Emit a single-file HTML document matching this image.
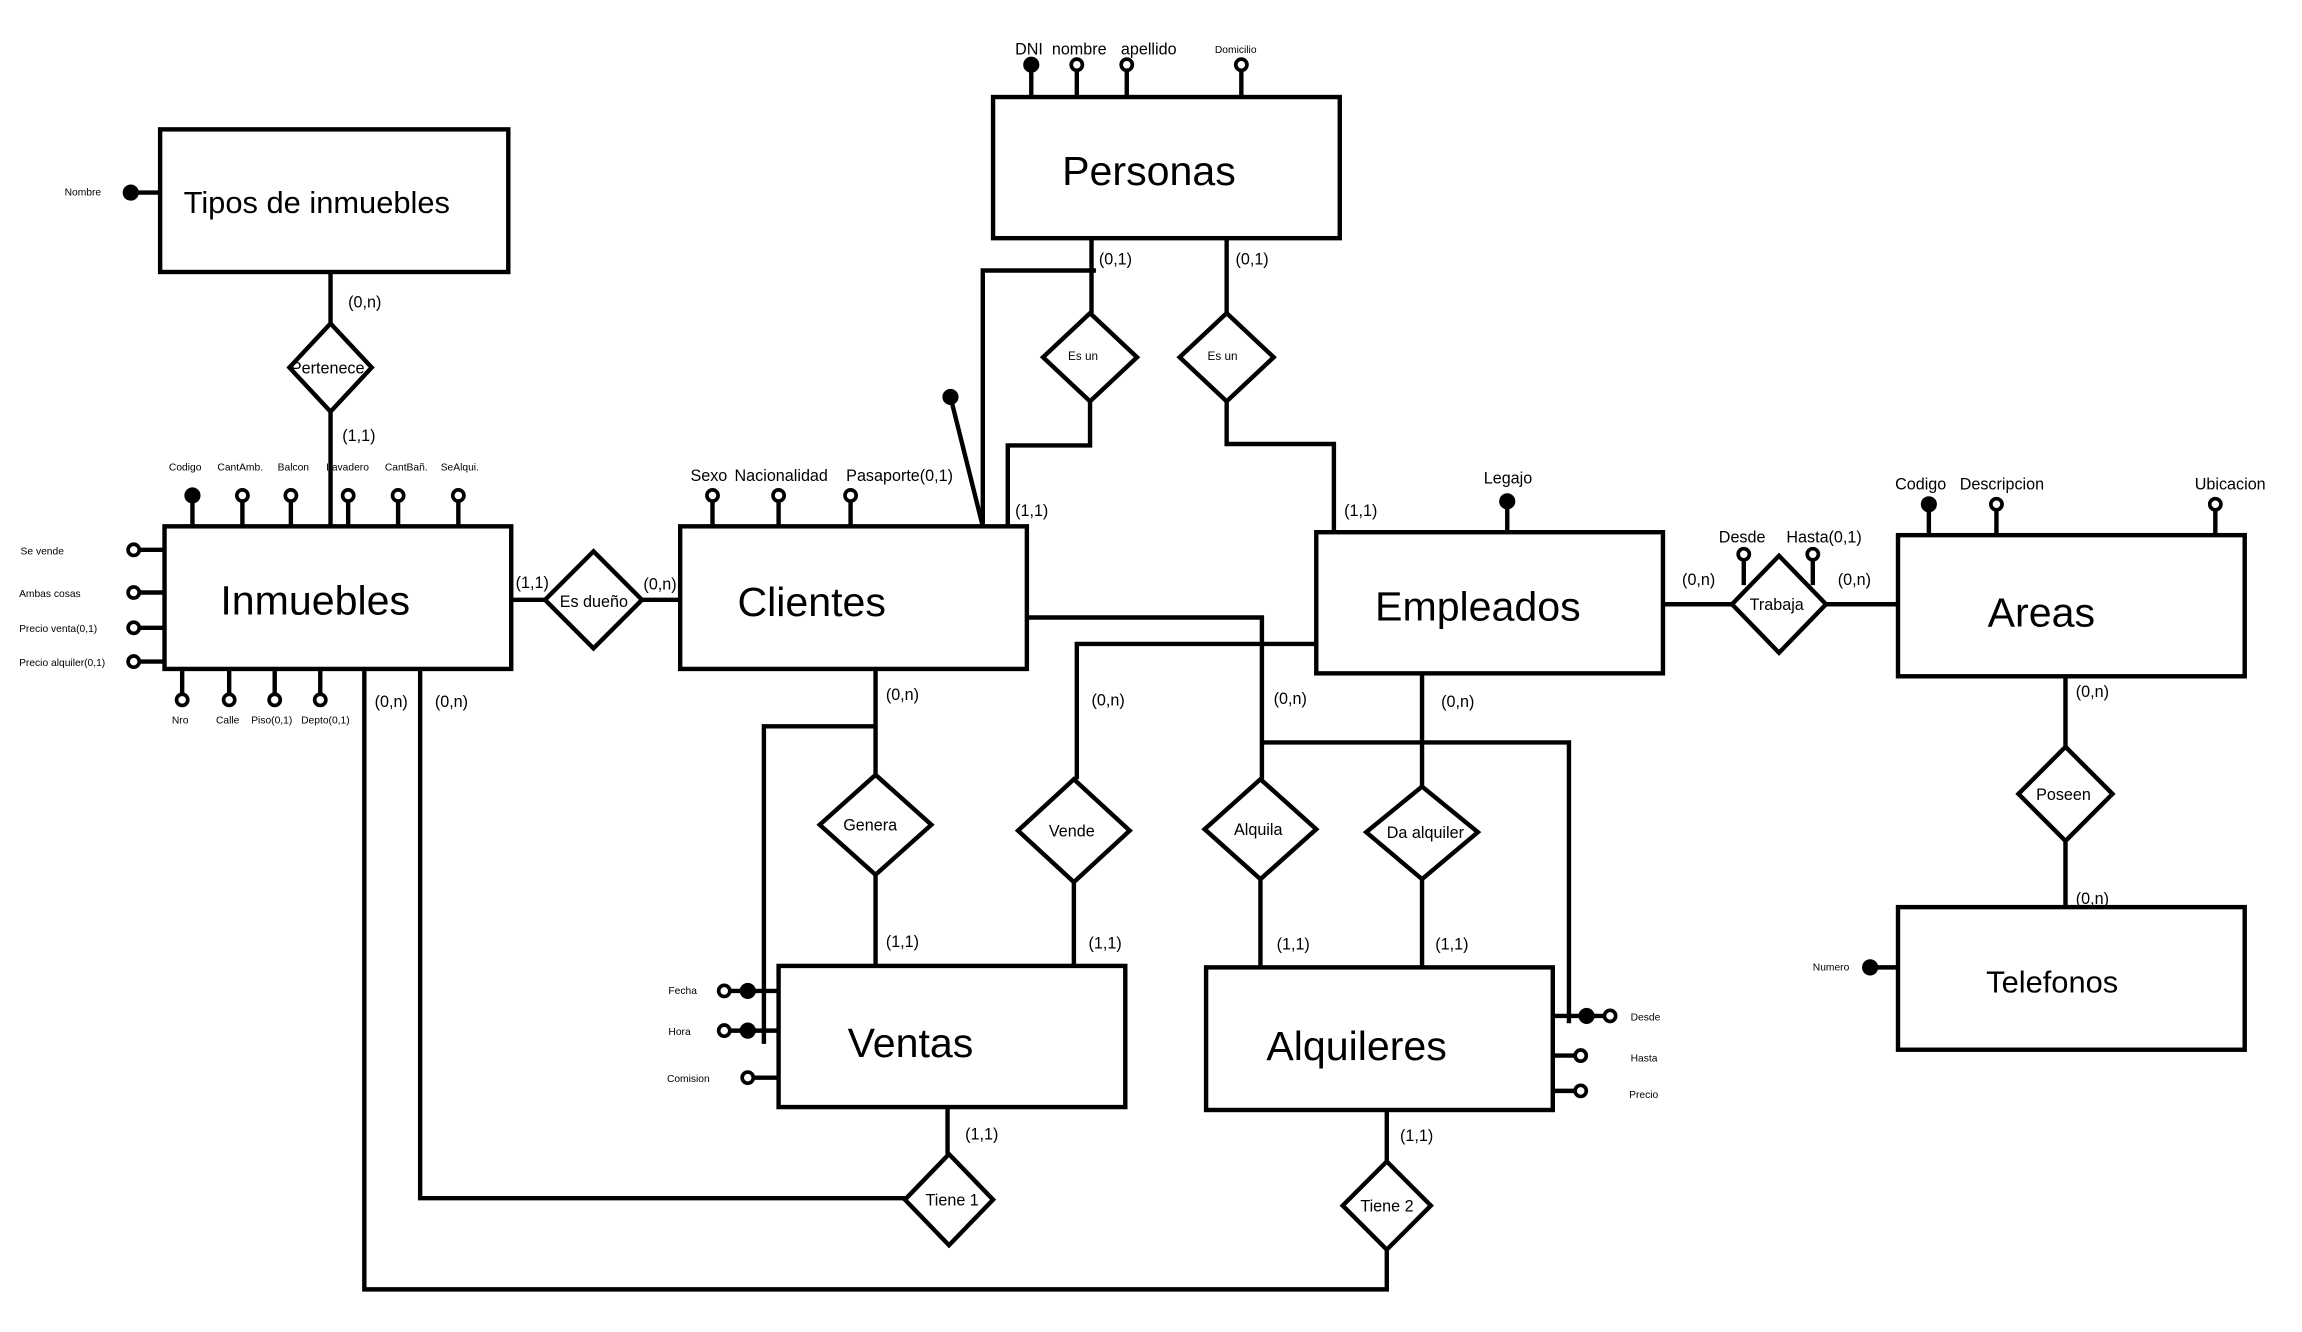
<!DOCTYPE html>
<html><head><meta charset="utf-8"><style>
html,body{margin:0;padding:0;background:#fff;}
svg{display:block;}
text{font-family:"Liberation Sans",sans-serif;fill:#000;}
</style></head><body>
<svg width="2302" height="1332" viewBox="0 0 1567 906" preserveAspectRatio="none" xmlns="http://www.w3.org/2000/svg">
<g fill="none" stroke="#000" stroke-width="3">
<rect x="109" y="88" width="237" height="97"/>
<rect x="112" y="358" width="236" height="97"/>
<rect x="463" y="358" width="236" height="97"/>
<rect x="676" y="66" width="236" height="96"/>
<rect x="896" y="362" width="236" height="96"/>
<rect x="1292" y="364" width="236" height="96"/>
<rect x="1292" y="617" width="236" height="97"/>
<rect x="530" y="657" width="236" height="96"/>
<rect x="821" y="658" width="236" height="97"/>
<polygon points="225,220 253,250 225,280 197,250"/>
<polygon points="404,375 437,408 404,441 371,408"/>
<polygon points="742,213 774,243 742,273 710,243"/>
<polygon points="835,213 867,243 835,273 803,243"/>
<polygon points="596,527 634,561 596,595 558,561"/>
<polygon points="731,530 769,565 731,600 693,565"/>
<polygon points="858,530 896,564 858,598 820,564"/>
<polygon points="968,535 1006,566 968,598 930,566"/>
<polygon points="646,785 676,816 646,847 616,816"/>
<polygon points="944,790 974,820 944,850 914,820"/>
<polygon points="1211,378 1243,411 1211,444 1179,411"/>
<polygon points="1406,508 1438,540 1406,572 1374,540"/>
<polyline points="225,185 225,220"/>
<polyline points="225,280 225,358"/>
<polyline points="348,408 371,408"/>
<polyline points="437,408 463,408"/>
<polyline points="669,358 669,184 746,184"/>
<polyline points="743,162 743,213"/>
<polyline points="742,273 742,303 686,303 686,358"/>
<polyline points="835,162 835,213"/>
<polyline points="835,273 835,302 908,302 908,362"/>
<polyline points="699,420 859,420 859,530"/>
<polyline points="859,505 1068,505 1068,696"/>
<polyline points="968,458 968,535"/>
<polyline points="896,438 733,438 733,530"/>
<polyline points="731,600 731,657"/>
<polyline points="596,455 596,527"/>
<polyline points="596,494 520,494 520,710"/>
<polyline points="596,595 596,657"/>
<polyline points="858,598 858,658"/>
<polyline points="968,598 968,658"/>
<polyline points="645,753 645,785"/>
<polyline points="616,815 286,815 286,455"/>
<polyline points="944,755 944,790"/>
<polyline points="944,850 944,877 248,877 248,455"/>
<polyline points="1132,411 1179,411"/>
<polyline points="1243,411 1292,411"/>
<polyline points="1406,460 1406,508"/>
<polyline points="1406,572 1406,617"/>
<line x1="669" y1="358" x2="647" y2="270"/>
<line x1="89" y1="131" x2="109" y2="131"/>
<line x1="131" y1="337" x2="131" y2="358"/><line x1="165" y1="337" x2="165" y2="358"/><line x1="198" y1="337" x2="198" y2="358"/><line x1="237" y1="337" x2="237" y2="358"/><line x1="271" y1="337" x2="271" y2="358"/><line x1="312" y1="337" x2="312" y2="358"/>
<line x1="91" y1="374" x2="112" y2="374"/><line x1="91" y1="403" x2="112" y2="403"/><line x1="91" y1="427" x2="112" y2="427"/><line x1="91" y1="450" x2="112" y2="450"/>
<line x1="124" y1="455" x2="124" y2="476"/><line x1="156" y1="455" x2="156" y2="476"/><line x1="187" y1="455" x2="187" y2="476"/><line x1="218" y1="455" x2="218" y2="476"/>
<line x1="485" y1="337" x2="485" y2="358"/><line x1="530" y1="337" x2="530" y2="358"/><line x1="579" y1="337" x2="579" y2="358"/>
<line x1="702" y1="44" x2="702" y2="66"/><line x1="733" y1="44" x2="733" y2="66"/><line x1="767" y1="44" x2="767" y2="66"/><line x1="845" y1="44" x2="845" y2="66"/>
<line x1="1026" y1="341" x2="1026" y2="362"/>
<line x1="1187" y1="377" x2="1187" y2="398"/><line x1="1234" y1="377" x2="1234" y2="398"/>
<line x1="1313" y1="343" x2="1313" y2="364"/><line x1="1359" y1="343" x2="1359" y2="364"/><line x1="1508" y1="343" x2="1508" y2="364"/>
<line x1="1273" y1="658" x2="1292" y2="658"/>
<line x1="494" y1="674" x2="530" y2="674"/><line x1="494" y1="701" x2="530" y2="701"/><line x1="509" y1="733" x2="530" y2="733"/>
<line x1="1057" y1="691" x2="1096" y2="691"/><line x1="1057" y1="718" x2="1076" y2="718"/><line x1="1057" y1="742" x2="1076" y2="742"/>
</g>
<g fill="#fff" stroke="#000" stroke-width="2.5">
<circle cx="165" cy="337" r="3.8"/><circle cx="198" cy="337" r="3.8"/><circle cx="237" cy="337" r="3.8"/><circle cx="271" cy="337" r="3.8"/><circle cx="312" cy="337" r="3.8"/>
<circle cx="91" cy="374" r="3.8"/><circle cx="91" cy="403" r="3.8"/><circle cx="91" cy="427" r="3.8"/><circle cx="91" cy="450" r="3.8"/>
<circle cx="124" cy="476" r="3.8"/><circle cx="156" cy="476" r="3.8"/><circle cx="187" cy="476" r="3.8"/><circle cx="218" cy="476" r="3.8"/>
<circle cx="485" cy="337" r="3.8"/><circle cx="530" cy="337" r="3.8"/><circle cx="579" cy="337" r="3.8"/>
<circle cx="733" cy="44" r="3.8"/><circle cx="767" cy="44" r="3.8"/><circle cx="845" cy="44" r="3.8"/>
<circle cx="1187" cy="377" r="3.8"/><circle cx="1234" cy="377" r="3.8"/>
<circle cx="1359" cy="343" r="3.8"/><circle cx="1508" cy="343" r="3.8"/>
<circle cx="493" cy="674" r="3.8"/><circle cx="493" cy="701" r="3.8"/><circle cx="509" cy="733" r="3.8"/>
<circle cx="1096" cy="691" r="3.8"/><circle cx="1076" cy="718" r="3.8"/><circle cx="1076" cy="742" r="3.8"/>
</g>
<g fill="#000">
<circle cx="89" cy="131" r="5.5"/><circle cx="131" cy="337" r="5.5"/><circle cx="647" cy="270" r="5.5"/><circle cx="702" cy="44" r="5.5"/>
<circle cx="1026" cy="341" r="5.5"/><circle cx="1313" cy="343" r="5.5"/><circle cx="1273" cy="658" r="5.5"/>
<circle cx="509" cy="674" r="5.5"/><circle cx="509" cy="701" r="5.5"/><circle cx="1080" cy="691" r="5.5"/>
</g>
<g font-size="28">
<text x="150" y="418">Inmuebles</text>
<text x="502" y="419">Clientes</text>
<text x="723" y="126">Personas</text>
<text x="936" y="422">Empleados</text>
<text x="1353" y="426">Areas</text>
<text x="577" y="719">Ventas</text>
<text x="862" y="721">Alquileres</text>
</g>
<text x="125" y="145" font-size="21">Tipos de inmuebles</text>
<text x="1352" y="675" font-size="21">Telefonos</text>
<g font-size="11">
<text x="198" y="254">Pertenece</text>
<text x="381" y="413">Es dueño</text>
<text x="574" y="565">Genera</text>
<text x="714" y="569">Vende</text>
<text x="840" y="568">Alquila</text>
<text x="944" y="570">Da alquiler</text>
<text x="630" y="820">Tiene 1</text>
<text x="926" y="824">Tiene 2</text>
<text x="1191" y="415">Trabaja</text>
<text x="1386" y="544">Poseen</text>
</g>
<g font-size="8">
<text x="727" y="245">Es un</text>
<text x="822" y="245">Es un</text>
</g>
<g font-size="11">
<text x="237" y="209">(0,n)</text>
<text x="233" y="300">(1,1)</text>
<text x="351" y="400">(1,1)</text>
<text x="438" y="401">(0,n)</text>
<text x="748" y="180">(0,1)</text>
<text x="841" y="180">(0,1)</text>
<text x="691" y="351">(1,1)</text>
<text x="915" y="351">(1,1)</text>
<text x="255" y="481">(0,n)</text>
<text x="296" y="481">(0,n)</text>
<text x="603" y="476">(0,n)</text>
<text x="743" y="480">(0,n)</text>
<text x="867" y="479">(0,n)</text>
<text x="981" y="481">(0,n)</text>
<text x="603" y="644">(1,1)</text>
<text x="741" y="645">(1,1)</text>
<text x="869" y="646">(1,1)</text>
<text x="977" y="646">(1,1)</text>
<text x="657" y="775">(1,1)</text>
<text x="953" y="776">(1,1)</text>
<text x="1145" y="398">(0,n)</text>
<text x="1251" y="398">(0,n)</text>
<text x="1413" y="474">(0,n)</text>
<text x="1413" y="615">(0,n)</text>
</g>
<g font-size="11">
<text x="470" y="327">Sexo</text>
<text x="500" y="327">Nacionalidad</text>
<text x="576" y="327">Pasaporte(0,1)</text>
<text x="691" y="37">DNI</text>
<text x="716" y="37">nombre</text>
<text x="763" y="37">apellido</text>
<text x="1010" y="329">Legajo</text>
<text x="1170" y="369">Desde</text>
<text x="1216" y="369">Hasta(0,1)</text>
<text x="1290" y="333">Codigo</text>
<text x="1334" y="333">Descripcion</text>
<text x="1494" y="333">Ubicacion</text>
</g>
<g font-size="7">
<text x="44" y="133">Nombre</text>
<text x="827" y="36">Domicilio</text>
<text x="115" y="320">Codigo</text>
<text x="148" y="320">CantAmb.</text>
<text x="189" y="320">Balcon</text>
<text x="222" y="320">Lavadero</text>
<text x="262" y="320">CantBañ.</text>
<text x="300" y="320">SeAlqui.</text>
<text x="14" y="377">Se vende</text>
<text x="13" y="406">Ambas cosas</text>
<text x="13" y="430">Precio venta(0,1)</text>
<text x="13" y="453">Precio alquiler(0,1)</text>
<text x="117" y="492">Nro</text>
<text x="147" y="492">Calle</text>
<text x="171" y="492">Piso(0,1)</text>
<text x="205" y="492">Depto(0,1)</text>
<text x="455" y="676">Fecha</text>
<text x="455" y="704">Hora</text>
<text x="454" y="736">Comision</text>
<text x="1110" y="694">Desde</text>
<text x="1110" y="722">Hasta</text>
<text x="1109" y="747">Precio</text>
<text x="1234" y="660">Numero</text>
</g>
</svg>
</body></html>
